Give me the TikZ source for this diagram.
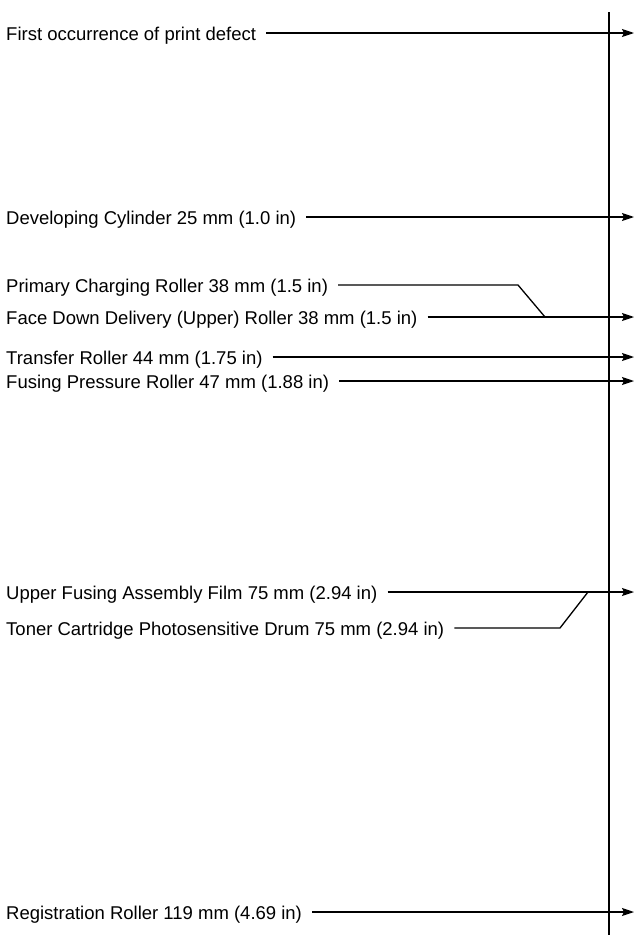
\documentclass[tikz,border=0pt]{standalone}
\usepackage{fontspec}
\setmainfont{Liberation Sans}
\usetikzlibrary{arrows.meta}
\begin{document}
\begin{tikzpicture}[x=1pt,y=-1pt,
  lab/.style={anchor=base west,inner sep=0pt,font=\fontsize{18.5}{20}\selectfont},
  conn/.style={line width=1.3pt},
  arr/.style={conn,-{Stealth[length=12pt,width=8pt,inset=2pt]}}]
\useasboundingbox (0,0) rectangle (636,937);
\coordinate (vt) at (609,12);
\coordinate (vb) at (609,935);
\draw[conn] (vt) -- (vb);
% labels
\node[lab] (l1) at (6,40) {First occurrence of print defect};
\node[lab] (l2) at (6,224) {Developing Cylinder 25 mm (1.0 in)};
\node[lab] (l3) at (6,292) {Primary Charging Roller 38 mm (1.5 in)};
\node[lab] (l4) at (6,324) {Face Down Delivery (Upper) Roller 38 mm (1.5 in)};
\node[lab] (l5) at (6,364) {Transfer Roller 44 mm (1.75 in)};
\node[lab] (l6) at (6,388) {Fusing Pressure Roller 47 mm (1.88 in)};
\node[lab] (l7) at (6,599) {Upper Fusing Assembly Film 75 mm (2.94 in)};
\node[lab] (l8) at (6,635) {Toner Cartridge Photosensitive Drum 75 mm (2.94 in)};
\node[lab] (l9) at (6,919) {Registration Roller 119 mm (4.69 in)};
% arrow ends
\coordinate (e1) at (634,33);
\coordinate (e2) at (634,217);
\coordinate (e4) at (634,317);
\coordinate (e5) at (634,357);
\coordinate (e6) at (634,381);
\coordinate (e7) at (634,592);
\coordinate (e9) at (634,912);
\coordinate (k3) at (518,285);
\coordinate (j4) at (545,317);
\coordinate (k8) at (560,628);
\coordinate (j7) at (588,592);
% connectors
\draw[arr] ([xshift=10pt]l1.east |- e1) -- (e1);
\draw[arr] ([xshift=10pt]l2.east |- e2) -- (e2);
\draw[conn] ([xshift=10pt]l3.east |- k3) -- (k3) -- (j4);
\draw[arr] ([xshift=10pt]l4.east |- e4) -- (e4);
\draw[arr] ([xshift=10pt]l5.east |- e5) -- (e5);
\draw[arr] ([xshift=10pt]l6.east |- e6) -- (e6);
\draw[arr] ([xshift=10pt]l7.east |- e7) -- (e7);
\draw[conn] ([xshift=10pt]l8.east |- k8) -- (k8) -- (j7);
\draw[arr] ([xshift=10pt]l9.east |- e9) -- (e9);
\end{tikzpicture}
\end{document}
